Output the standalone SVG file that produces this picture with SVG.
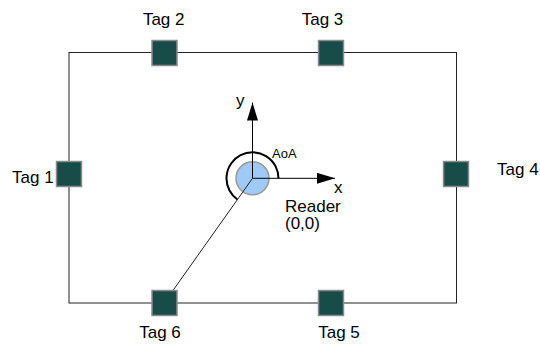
<svg xmlns="http://www.w3.org/2000/svg" width="540" height="349" viewBox="0 0 540 349">
  <style>
    .lbl { font-family: "Liberation Sans", Arial, sans-serif; font-size: 17px; fill: #000; }
    .tag { fill: #174c48; stroke: #8a8a8a; stroke-width: 1.5; }
    .edge { stroke: #222; stroke-width: 1; fill: none; }
  </style>
  <defs>
    <marker id="arrow" markerWidth="18" markerHeight="11" refX="18" refY="5.5" orient="auto" markerUnits="userSpaceOnUse">
      <path d="M0,0 L18,5.5 L0,11 Z" fill="#000"/>
    </marker>
  </defs>

  <!-- room boundary -->
  <rect id="room" x="69" y="52.5" width="387.5" height="250.5" fill="none" stroke="#222" stroke-width="1"/>

  <!-- angle of arrival arc -->
  <path id="aoa-arc" d="M278.5,178.3 A26,26 0 1 0 237.4,199.5" fill="none" stroke="#000" stroke-width="2"/>

  <g id="reader">
    <circle cx="252.5" cy="178.3" r="16.5" fill="#9fc9f6" stroke="#9a9a9a" stroke-width="1.5"/>
    <line x1="252.5" y1="178.3" x2="252.5" y2="102.5" stroke="#000" stroke-width="1" marker-end="url(#arrow)"/>
    <line x1="252.5" y1="178.3" x2="335" y2="178.3" stroke="#000" stroke-width="1" marker-end="url(#arrow)"/>
    <text class="lbl" x="236" y="106">y</text>
    <text class="lbl" x="334" y="192.5">x</text>
    <text class="lbl" x="272" y="158" style="font-size:13px">AoA</text>
    <text class="lbl" x="285" y="211.5">Reader</text>
    <text class="lbl" x="285" y="229">(0,0)</text>
  </g>

  <g id="connectors">
    <!-- reader to tag 6 -->
    <line class="edge" x1="252.5" y1="178.3" x2="165" y2="301.7"/>
  </g>

  <g id="tag1">
    <rect class="tag" x="56.5" y="161.5" width="25" height="25"/>
    <text class="lbl" x="12" y="182.5">Tag 1</text>
  </g>
  <g id="tag2">
    <rect class="tag" x="152" y="40.5" width="25" height="25"/>
    <text class="lbl" x="163.7" y="25" text-anchor="middle">Tag 2</text>
  </g>
  <g id="tag3">
    <rect class="tag" x="318.5" y="40.5" width="25" height="25"/>
    <text class="lbl" x="322.5" y="25" text-anchor="middle">Tag 3</text>
  </g>
  <g id="tag4">
    <rect class="tag" x="443.5" y="161.5" width="25" height="25"/>
    <text class="lbl" x="497" y="175">Tag 4</text>
  </g>
  <g id="tag5">
    <rect class="tag" x="318.5" y="290.5" width="25" height="25"/>
    <text class="lbl" x="339" y="338" text-anchor="middle">Tag 5</text>
  </g>
  <g id="tag6">
    <rect class="tag" x="152" y="290.5" width="25" height="25"/>
    <text class="lbl" x="160" y="338" text-anchor="middle">Tag 6</text>
  </g>
</svg>
